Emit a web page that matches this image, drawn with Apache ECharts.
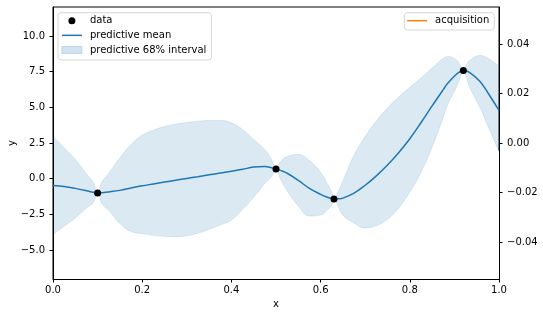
<!DOCTYPE html>
<html>
<head>
<meta charset="utf-8">
<script src="https://cdn.jsdelivr.net/npm/echarts@6/dist/echarts.min.js"></script>
<style>html,body{margin:0;padding:0;background:#fff;}#chart{width:543px;height:317px;}</style>
</head>
<body>
<div id="chart"></div>
<script>
// ---- data ----
var xGrid = [0, 0.025, 0.05, 0.075, 0.09, 0.1, 0.11, 0.125, 0.15, 0.175, 0.2, 0.225, 0.25, 0.275, 0.3, 0.325, 0.35, 0.375, 0.4, 0.425, 0.45, 0.475, 0.49, 0.5, 0.51, 0.525, 0.55, 0.575, 0.6, 0.615, 0.625, 0.63, 0.64, 0.65, 0.675, 0.7, 0.725, 0.75, 0.775, 0.8, 0.825, 0.85, 0.875, 0.885, 0.905, 0.913, 0.92, 0.927, 0.935, 0.957, 0.975, 1.0];
var meanY = [-0.47, -0.55, -0.68, -0.84, -0.95, -1.00, -0.98, -0.93, -0.82, -0.65, -0.50, -0.37, -0.24, -0.11, 0.02, 0.14, 0.27, 0.40, 0.52, 0.66, 0.81, 0.86, 0.77, 0.68, 0.58, 0.38, -0.12, -0.68, -1.10, -1.30, -1.39, -1.42, -1.41, -1.36, -1.01, -0.46, 0.20, 0.96, 1.82, 2.80, 3.92, 5.10, 6.24, 6.68, 7.33, 7.50, 7.58, 7.55, 7.42, 6.82, 6.02, 4.78];
var upperY = [2.96, 2.17, 1.35, 0.34, -0.25, -1.00, -0.20, 0.37, 1.46, 2.39, 3.05, 3.40, 3.65, 3.82, 3.93, 4.02, 4.08, 4.08, 3.92, 3.45, 2.75, 2.03, 1.36, 0.68, 1.18, 1.55, 1.70, 1.27, 0.45, -0.35, -0.94, -1.42, -0.86, -0.16, 1.65, 2.95, 4.05, 4.95, 5.72, 6.40, 7.05, 7.75, 8.42, 8.57, 8.32, 7.95, 7.58, 7.98, 8.30, 8.64, 8.45, 7.86];
var lowerY = [-3.92, -3.33, -2.75, -2.06, -1.69, -1.00, -1.76, -2.23, -3.14, -3.71, -3.85, -3.97, -4.04, -4.07, -4.00, -3.82, -3.55, -3.25, -2.90, -2.15, -1.30, -0.33, 0.16, 0.68, -0.02, -0.85, -1.92, -2.62, -2.55, -2.20, -1.84, -1.42, -1.96, -2.56, -3.10, -3.45, -3.30, -2.85, -2.05, -0.95, 0.45, 2.20, 4.30, 5.20, 6.45, 7.09, 7.58, 7.08, 6.35, 5.00, 3.70, 1.90];
var obsX = [0.1, 0.5, 0.63, 0.92];
var obsY = [-1.0, 0.68, -1.42, 7.58];
var acqX = [];
var acqY = [];
var yTicks = [-5, -2.5, 0, 2.5, 5, 7.5, 10];
var y2Ticks = [-0.04, -0.02, 0, 0.02, 0.04];

// ---- build series data ----
function pairs(xs, ys) { return xs.map(function (x, i) { return [x, ys[i]]; }); }
var upperData = pairs(xGrid, upperY);
var lowerData = pairs(xGrid, lowerY);
var meanData = pairs(xGrid, meanY);
var obsData = pairs(obsX, obsY);
var acqData = pairs(acqX, acqY);

var FONT = 'DejaVu Sans';
var BLUE = '#1f77b4';
var BAND = 'rgba(31,119,180,0.16)';
var EDGE = 'rgba(31,119,180,0.16)';
var SM_BAND = 0.45;
var SM_MEAN = 0.4;
function minus(s) { return s.replace('-', '\u2212'); }
var LINE_ICON = 'path://M0,0 L20,0 L20,1.5 L0,1.5 Z';

var chart = echarts.init(document.getElementById('chart'), null, { renderer: 'canvas' });
chart.setOption({
  animation: false,
  backgroundColor: '#fff',
  grid: { left: 53, right: 44, top: 7, bottom: 38, show: true, borderColor: '#000', borderWidth: 1, backgroundColor: 'transparent', outerBoundsMode: 'none', containLabel: false },
  legend: [{
    orient: 'vertical', left: 58, top: 12.7,
    padding: [2, 5, 4, 3.5], itemGap: 2.65, itemWidth: 20, itemHeight: 7,
    borderColor: '#d6d6d6', borderWidth: 1, borderRadius: 3, backgroundColor: '#fff',
    textStyle: { fontFamily: FONT, fontSize: 10, color: '#000', lineHeight: 12, padding: [0, 0, 0, 3] },
    selectedMode: false,
    data: [
      { name: 'data', icon: 'circle', itemStyle: { color: '#000', opacity: 1 } },
      { name: 'predictive mean', icon: LINE_ICON, itemStyle: { color: BLUE } },
      { name: 'predictive 68% interval', icon: 'rect', itemStyle: { color: 'rgba(31,119,180,0.2)', borderColor: 'rgba(31,119,180,0.25)', borderWidth: 0.8 } }
    ]
  }, {
    orient: 'vertical', right: 48.7, top: 12.7,
    padding: [2, 5, 3.3, 2.7], itemWidth: 20, itemHeight: 7,
    borderColor: '#d6d6d6', borderWidth: 1, borderRadius: 3, backgroundColor: '#fff',
    textStyle: { fontFamily: FONT, fontSize: 10, color: '#000', lineHeight: 12, padding: [0, 0, 0, 3] },
    selectedMode: false,
    data: [{ name: 'acquisition', icon: LINE_ICON, itemStyle: { color: '#ff7f0e' } }]
  }],
  xAxis: {
    type: 'value', min: 0, max: 1, interval: 0.2, z: 2,
    name: 'x', nameLocation: 'middle', nameGap: 20, nameMoveOverlap: false,
    nameTextStyle: { fontFamily: FONT, fontSize: 10, color: '#000' },
    axisLine: { show: true, onZero: false, lineStyle: { color: '#000', width: 1 } },
    axisTick: { show: true, length: 3.5, lineStyle: { color: '#000', width: 1 } },
    axisLabel: { fontFamily: FONT, fontSize: 10, color: '#000', margin: 6, formatter: function (v) { return v.toFixed(1); } },
    splitLine: { show: false }
  },
  yAxis: [{
    type: 'value', min: -7.03, max: 12.03, z: 2,
    name: 'y', nameLocation: 'middle', nameGap: 36, nameRotate: 90, nameMoveOverlap: false,
    nameTextStyle: { fontFamily: FONT, fontSize: 10, color: '#000' },
    axisLine: { show: true, onZero: false, lineStyle: { color: '#000', width: 1 } },
    axisTick: { show: true, length: 3.5, lineStyle: { color: '#000', width: 1 }, customValues: yTicks },
    axisLabel: { fontFamily: FONT, fontSize: 10, color: '#000', margin: 8, customValues: yTicks, formatter: function (v) { return minus(v.toFixed(1)); } },
    splitLine: { show: false }
  }, {
    type: 'value', min: -0.055, max: 0.055, position: 'right', z: 2,
    axisLine: { show: true, onZero: false, lineStyle: { color: '#000', width: 1 } },
    axisTick: { show: true, length: 3.5, lineStyle: { color: '#000', width: 1 }, customValues: y2Ticks },
    axisLabel: { fontFamily: FONT, fontSize: 10, color: '#000', margin: 8, customValues: y2Ticks, formatter: function (v) { return minus(v.toFixed(2)); } },
    splitLine: { show: false }
  }],
  series: [{
    name: 'predictive 68% interval', type: 'line', data: upperData,
    symbol: 'none', smooth: SM_BAND, silent: true,
    itemStyle: { color: BAND },
    lineStyle: { color: EDGE, width: 0.8 },
    areaStyle: { color: BAND, opacity: 1, origin: 'start' }, z: 1
  }, {
    name: 'lowerEdge', type: 'line', data: lowerData,
    symbol: 'none', smooth: SM_BAND, silent: true,
    lineStyle: { color: EDGE, width: 0.8 },
    areaStyle: { color: '#ffffff', opacity: 1, origin: 'start' }, z: 1
  }, {
    name: 'predictive mean', type: 'line', data: meanData, symbol: 'none', smooth: SM_MEAN,
    itemStyle: { color: BLUE }, lineStyle: { color: BLUE, width: 1.5 }, z: 3
  }, {
    name: 'data', type: 'scatter', data: obsData, symbol: 'circle', symbolSize: 7,
    itemStyle: { color: '#000', opacity: 1 }, z: 4
  }, {
    name: 'acquisition', type: 'line', yAxisIndex: 1, data: acqData, symbol: 'none',
    itemStyle: { color: '#ff7f0e' }, lineStyle: { color: '#ff7f0e', width: 1.5 }, z: 3
  }]
});
</script>
</body>
</html>
